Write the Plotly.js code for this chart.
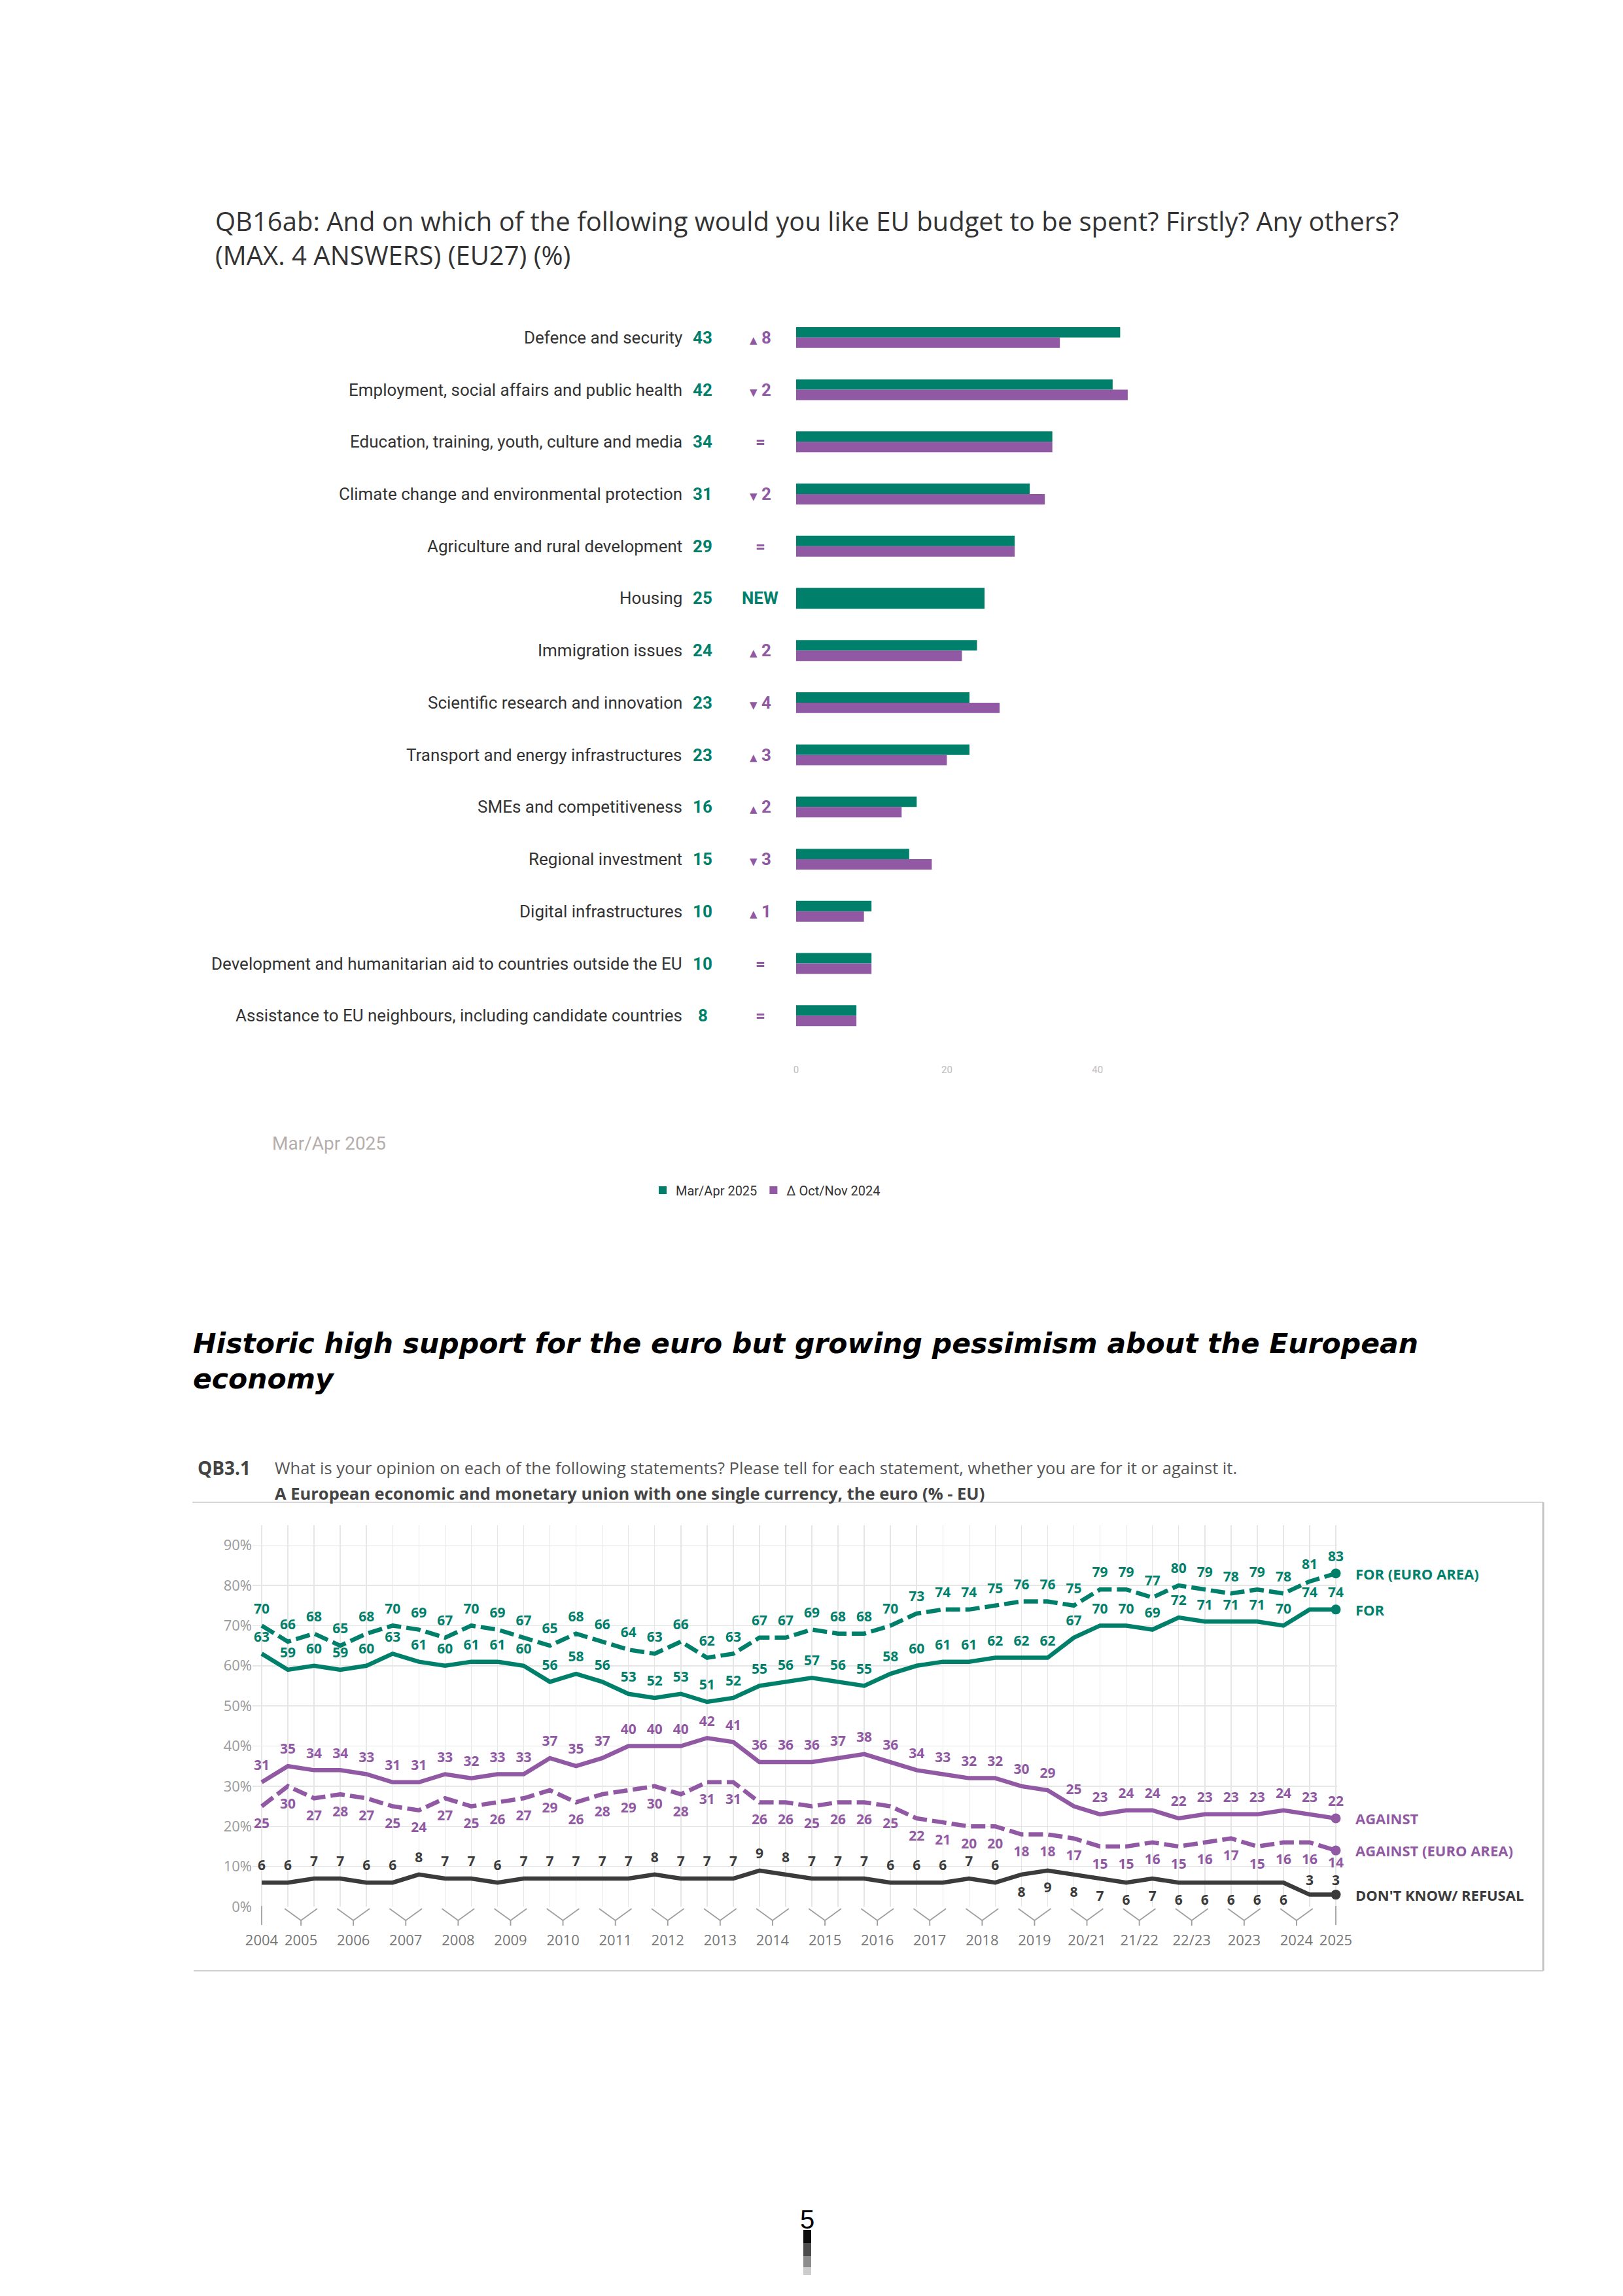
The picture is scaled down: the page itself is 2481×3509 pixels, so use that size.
<!DOCTYPE html>
<html><head><meta charset="utf-8">
<script src="https://cdn.plot.ly/plotly-3.0.1.min.js"></script>
<style>html,body{margin:0;padding:0;background:#fff;overflow:hidden}#page{width:2481px;height:3509px}</style>
</head><body><div id="page"></div>
<script>
// ---------- Data: QB16ab (EU budget priorities) ----------
const budgetCategories = [
  'Defence and security',
  'Employment, social affairs and public health',
  'Education, training, youth, culture and media',
  'Climate change and environmental protection',
  'Agriculture and rural development',
  'Housing',
  'Immigration issues',
  'Scientific research and innovation',
  'Transport and energy infrastructures',
  'SMEs and competitiveness',
  'Regional investment',
  'Digital infrastructures',
  'Development and humanitarian aid to countries outside the EU',
  'Assistance to EU neighbours, including candidate countries'
];
const budgetMarApr2025 = [43, 42, 34, 31, 29, 25, 24, 23, 23, 16, 15, 10, 10, 8];
const budgetOctNov2024 = [35, 44, 34, 33, 29, null, 22, 27, 20, 14, 18, 9, 10, 8];
const budgetTicks = [0, 20, 40];

// ---------- Data: QB3.1 (support for the euro) ----------
const waveYears = ['2004','2005','2005','2006','2006','2007','2007','2008','2008','2009','2009',
  '2010','2010','2011','2011','2012','2012','2013','2013','2014','2014','2015','2015','2016','2016',
  '2017','2017','2018','2018','2019','2019','20/21','20/21','21/22','21/22','22/23','22/23',
  '2023','2023','2024','2024','2025'];
const forEuroArea = [70,66,68,65,68,70,69,67,70,69,67,65,68,66,64,63,66,62,63,67,67,69,68,68,70,73,74,74,75,76,76,75,79,79,77,80,79,78,79,78,81,83];
const forEU = [63,59,60,59,60,63,61,60,61,61,60,56,58,56,53,52,53,51,52,55,56,57,56,55,58,60,61,61,62,62,62,67,70,70,69,72,71,71,71,70,74,74];
const againstEU = [31,35,34,34,33,31,31,33,32,33,33,37,35,37,40,40,40,42,41,36,36,36,37,38,36,34,33,32,32,30,29,25,23,24,24,22,23,23,23,24,23,22];
const againstEuroArea = [25,30,27,28,27,25,24,27,25,26,27,29,26,28,29,30,28,31,31,26,26,25,26,26,25,22,21,20,20,18,18,17,15,15,16,15,16,17,15,16,16,14];
const dontKnow = [6,6,7,7,6,6,8,7,7,6,7,7,7,7,7,8,7,7,7,9,8,7,7,7,6,6,6,7,6,8,9,8,7,6,7,6,6,6,6,6,3,3];
const yTicks = [0,10,20,30,40,50,60,70,80,90];

// ---------- Styling ----------
const GREEN = '#00806A', PURPLE = '#9159A3', DARK = '#3B3B3B';
const W = 2481, H = 3509;
const fx = p => p / W, fy = p => 1 - p / H;

const traces = [];
const annotations = [];
const shapes = [];

// ---------- Top chart: bars ----------
traces.push({
  type: 'bar', orientation: 'h', name: 'Mar/Apr 2025',
  y: budgetCategories, x: budgetMarApr2025,
  width: budgetOctNov2024.map(p => p == null ? 0.4 : 0.2),
  offset: -0.2,
  marker: {color: GREEN}, xaxis: 'x', yaxis: 'y', hoverinfo: 'skip'
});
traces.push({
  type: 'bar', orientation: 'h', name: 'Δ Oct/Nov 2024',
  y: budgetCategories, x: budgetOctNov2024,
  width: 0.2, offset: 0,
  marker: {color: PURPLE}, xaxis: 'x', yaxis: 'y', hoverinfo: 'skip'
});

budgetCategories.forEach((c, i) => {
  const cur = budgetMarApr2025[i], prev = budgetOctNov2024[i];
  annotations.push({xref: 'paper', yref: 'y', x: fx(1045), y: i, xanchor: 'right', yanchor: 'middle',
    text: c, showarrow: false, font: {family: 'Roboto', size: 26, color: '#333'}});
  annotations.push({xref: 'paper', yref: 'y', x: fx(1074), y: i, xanchor: 'center', yanchor: 'middle',
    text: '<b>' + cur + '</b>', showarrow: false, font: {family: 'Roboto', size: 26, color: GREEN}});
  let chg, col = PURPLE;
  if (prev == null) { chg = '<b>NEW</b>'; col = GREEN; }
  else {
    const d = cur - prev;
    if (d > 0) chg = '<span style="font-family:DejaVu Sans;font-size:15px">▲</span> <b>' + d + '</b>';
    else if (d < 0) chg = '<span style="font-family:DejaVu Sans;font-size:15px">▼</span> <b>' + (-d) + '</b>';
    else chg = '<b>=</b>';
  }
  annotations.push({xref: 'paper', yref: 'y', x: fx(1162), y: i, xanchor: 'center', yanchor: 'middle',
    text: chg, showarrow: false, font: {family: 'Roboto', size: 26, color: col}});
});

// Titles for top chart
annotations.push({xref: 'paper', yref: 'paper', x: fx(327), y: fy(364), xanchor: 'left', yanchor: 'middle', align: 'left',
  text: 'QB16ab: And on which of the following would you like EU budget to be spent? Firstly? Any others?<br>(MAX. 4 ANSWERS) (EU27) (%)',
  showarrow: false, font: {family: 'Open Sans', size: 40, color: '#333'}});
annotations.push({xref: 'paper', yref: 'paper', x: fx(414), y: fy(1747), xanchor: 'left', yanchor: 'middle',
  text: 'Mar/Apr 2025', showarrow: false, font: {family: 'Roboto', size: 28, color: '#b5aeac'}});

// ---------- Bottom chart: lines ----------
const idx = waveYears.map((_, i) => i);
const last = idx.length - 1;

function lineSeries(vals, color, dash, posFn, sizeFn) {
  const pos = vals.map((v, i) => posFn(i));
  return {
    type: 'scatter', mode: 'lines+markers+text', xaxis: 'x2', yaxis: 'y2',
    x: idx, y: vals, text: vals.map(String), textposition: pos,
    textfont: {family: 'Open Sans', size: 21, color: color, weight: 700},
    line: {color: color, width: 6.5, dash: dash},
    marker: {size: pos.map((p, i) => sizeFn(i, p)), color: 'rgba(0,0,0,0)', opacity: 0, line: {width: 0}},
    cliponaxis: false, showlegend: false, hoverinfo: 'skip'
  };
}
const defSize = (i, p) => p.indexOf('top') === 0 ? 20 : 27;
const series = [
  {vals: forEuroArea, color: GREEN, dash: '22px,8px', pos: () => 'top center', size: defSize, label: 'FOR (EURO AREA)'},
  {vals: forEU, color: GREEN, dash: 'solid', pos: () => 'top center', size: defSize, label: 'FOR'},
  {vals: againstEU, color: PURPLE, dash: 'solid', pos: () => 'top center', size: defSize, label: 'AGAINST'},
  {vals: againstEuroArea, color: PURPLE, dash: '22px,8px', pos: () => 'bottom center',
    size: (i, p) => i === last ? 15 : defSize(i, p), label: 'AGAINST (EURO AREA)'},
  {vals: dontKnow, color: DARK, dash: 'solid', pos: i => (i >= 29 && i <= 39) ? 'bottom center' : 'top center',
    size: (i, p) => i >= last - 1 ? 13 : defSize(i, p), label: "DON'T KNOW/ REFUSAL"}
];
series.forEach(s => {
  traces.push(lineSeries(s.vals, s.color, s.dash, s.pos, s.size));
  traces.push({type: 'scatter', mode: 'markers', xaxis: 'x2', yaxis: 'y2', x: [idx[last]], y: [s.vals[last]],
    marker: {size: 15, color: s.color}, showlegend: false, hoverinfo: 'skip', cliponaxis: false});
  annotations.push({xref: 'paper', yref: 'y2', x: fx(2070), y: s.vals[last], xanchor: 'left', yanchor: 'middle',
    text: '<b>' + s.label + '</b>', showarrow: false, font: {family: 'Open Sans', size: 22, color: s.color}});
});

// Year groups -> tick positions and bracket shapes
const groups = [];
waveYears.forEach((y, i) => {
  if (!groups.length || groups[groups.length - 1].label !== y) groups.push({label: y, idx: [i]});
  else groups[groups.length - 1].idx.push(i);
});
const tickPos = groups.map(g => g.idx.reduce((a, b) => a + b, 0) / g.idx.length);
const tickText = groups.map(g => g.label);
const BR = '#9f9f9f';
groups.forEach((g, k) => {
  const c = tickPos[k];
  if (g.idx.length === 1) {
    shapes.push({type: 'line', xref: 'x2', yref: 'paper', x0: c, x1: c, y0: fy(2913), y1: fy(2942), line: {color: BR, width: 1.8}});
  } else {
    shapes.push({type: 'line', xref: 'x2', yref: 'paper', x0: c - 0.62, x1: c, y0: fy(2917), y1: fy(2935), line: {color: BR, width: 1.8}});
    shapes.push({type: 'line', xref: 'x2', yref: 'paper', x0: c, x1: c + 0.62, y0: fy(2935), y1: fy(2917), line: {color: BR, width: 1.8}});
    shapes.push({type: 'line', xref: 'x2', yref: 'paper', x0: c, x1: c, y0: fy(2935), y1: fy(2943), line: {color: BR, width: 1.8}});
  }
});

// Frame around bottom chart
shapes.push({type: 'line', xref: 'paper', yref: 'paper', x0: fx(294), x1: fx(2359), y0: fy(2296), y1: fy(2296), line: {color: '#d6d6d6', width: 2}});
shapes.push({type: 'line', xref: 'paper', yref: 'paper', x0: fx(2359), x1: fx(2359), y0: fy(2296), y1: fy(3012), line: {color: '#c4c4c4', width: 3}});
shapes.push({type: 'line', xref: 'paper', yref: 'paper', x0: fx(296), x1: fx(2359), y0: fy(3012), y1: fy(3012), line: {color: '#d0d0d0', width: 2}});

// Bottom chart titles
annotations.push({xref: 'paper', yref: 'paper', x: fx(293), y: fy(2053), xanchor: 'left', yanchor: 'middle',
  text: '<b><i>Historic high support for the euro but growing pessimism about the European</i></b>',
  showarrow: false, font: {family: 'DejaVu Sans', size: 42.5, color: '#000'}});
annotations.push({xref: 'paper', yref: 'paper', x: fx(293), y: fy(2107), xanchor: 'left', yanchor: 'middle',
  text: '<b><i>economy</i></b>', showarrow: false, font: {family: 'DejaVu Sans', size: 42.5, color: '#000'}});
annotations.push({xref: 'paper', yref: 'paper', x: fx(300), y: fy(2243), xanchor: 'left', yanchor: 'middle',
  text: '<b>QB3.1</b>', showarrow: false, font: {family: 'Open Sans', size: 28, color: '#444'}});
annotations.push({xref: 'paper', yref: 'paper', x: fx(418), y: fy(2243), xanchor: 'left', yanchor: 'middle',
  text: 'What is your opinion on each of the following statements? Please tell for each statement, whether you are for it or against it.',
  showarrow: false, font: {family: 'Open Sans', size: 25.5, color: '#555'}});
annotations.push({xref: 'paper', yref: 'paper', x: fx(418), y: fy(2282), xanchor: 'left', yanchor: 'middle',
  text: '<b>A European economic and monetary union with one single currency, the euro (% - EU)</b>',
  showarrow: false, font: {family: 'Open Sans', size: 25.5, color: '#444'}});

// Page footer
annotations.push({xref: 'paper', yref: 'paper', x: fx(1234), y: fy(3392), xanchor: 'center', yanchor: 'middle',
  text: '5', showarrow: false, font: {family: 'Liberation Sans', size: 40, color: '#000'}});
[[3408, 3428, 0.95], [3428, 3448, 0.7], [3448, 3465, 0.45], [3465, 3477, 0.2]].forEach(r => {
  shapes.push({type: 'rect', xref: 'paper', yref: 'paper', x0: fx(1228), x1: fx(1240), y0: fy(r[1]), y1: fy(r[0]),
    line: {width: 0}, fillcolor: 'rgba(0,0,0,' + r[2] + ')'});
});

const layout = {
  width: W, height: H, margin: {l: 0, r: 0, t: 0, b: 0},
  paper_bgcolor: '#fff', plot_bgcolor: 'rgba(0,0,0,0)',
  font: {family: 'Roboto', color: '#333'},
  barmode: 'overlay', showlegend: true,
  xaxis: {domain: [fx(1217), fx(1217 + 55 * 11.52)], range: [0, 55], tickvals: budgetTicks,
    showgrid: false, zeroline: false, showline: false, ticks: '', anchor: 'y',
    tickfont: {family: 'Roboto', size: 15, color: '#bdbdbd'}},
  yaxis: {domain: [fy(1624), fy(476)], range: [13.9, -0.5], type: 'category',
    showticklabels: false, showgrid: false, zeroline: false, showline: false, ticks: '', anchor: 'x'},
  xaxis2: {domain: [fx(386), fx(2044)], range: [-0.35, 41.05], anchor: 'y2',
    tickmode: 'array', tickvals: tickPos, ticktext: tickText,
    showgrid: false, zeroline: false, showline: false,
    ticks: 'outside', ticklen: 32, tickcolor: 'rgba(0,0,0,0)',
    tickfont: {family: 'Open Sans', size: 22, color: '#777'},
    minor: {tickmode: 'linear', tick0: 0, dtick: 1, showgrid: true, gridcolor: '#e6e6e6', gridwidth: 1.5, ticks: ''}},
  yaxis2: {domain: [fy(2914), fy(2331)], range: [0, 95], anchor: 'x2',
    tickmode: 'array', tickvals: yTicks, ticktext: yTicks.map(v => v + '%'),
    showgrid: true, gridcolor: '#e6e6e6', gridwidth: 1.5, zeroline: false, showline: false,
    tickfont: {family: 'Open Sans', size: 22, color: '#9a9a9a'}},
  legend: {orientation: 'h', x: fx(993), y: fy(1819), xanchor: 'left', yanchor: 'middle',
    font: {family: 'Roboto', size: 20, color: '#333'}, bgcolor: 'rgba(0,0,0,0)', traceorder: 'normal'},
  annotations: annotations, shapes: shapes
};

Plotly.newPlot('page', traces, layout, {staticPlot: true, displayModeBar: false});
</script>
</body></html>
